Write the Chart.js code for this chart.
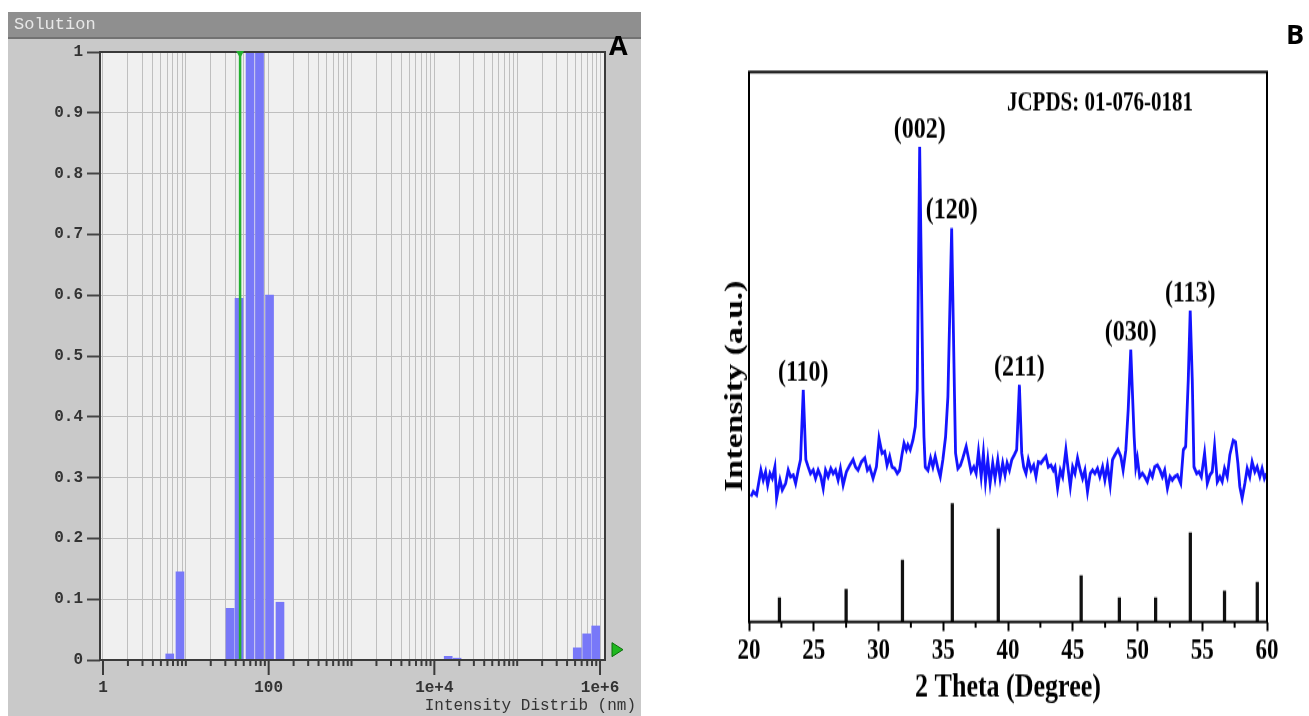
<!DOCTYPE html>
<html>
<head>
<meta charset="utf-8">
<script src="https://cdn.jsdelivr.net/npm/chart.js@4.4.1/dist/chart.umd.min.js"></script>
<style>
  html, body { margin: 0; padding: 0; background: #fff; }
  body { width: 1309px; height: 716px; position: relative; overflow: hidden; }
  #sizeChart { position: absolute; left: 8px; top: 12px; }
  #xrdChart { position: absolute; left: 650px; top: 0; }
  .panel-tag { position: absolute; font: bold 27px "Open Sans", sans-serif; color: #000; line-height: 1; }
</style>
</head>
<body>
<canvas id="sizeChart" width="633" height="704"></canvas>
<canvas id="xrdChart" width="659" height="551" style="width:659px;height:716px"></canvas>
<div class="panel-tag" style="left:609px;top:31px">A</div>
<div class="panel-tag" style="left:1286px;top:20px">B</div>
<script>
// ---- Panel A: intensity size distribution (nm) ----
const dlsSizes = [6.4, 8.5, 34.2, 43.9, 59.6, 77.6, 102.5, 137, 14700, 18800, 531000, 690000, 887000];
const dlsIntensity = [0.01, 0.145, 0.085, 0.595, 1.0, 1.0, 0.6, 0.095, 0.006, 0.003, 0.02, 0.043, 0.056];
const dlsMeanSize = 45.2;
const dlsLabelDecades = [0, 2, 4, 6];
const dlsTickLabels = ['1', '100', '1e+4', '1e+6'];

// ---- Panel B: XRD pattern ----
const xrdAngle = [
  20.15, 20.33, 20.59, 20.92, 21.10, 21.28, 21.44, 21.62, 21.80, 22.00,
  22.13, 22.39, 22.57, 22.83, 23.03, 23.21, 23.42, 23.60, 23.80, 23.98,
  24.19, 24.39, 24.57, 24.75, 24.96, 25.14, 25.34, 25.55, 25.73, 25.91,
  26.11, 26.32, 26.50, 26.68, 26.88, 27.06, 27.27, 27.52, 27.78, 28.04,
  28.22, 28.42, 28.68, 28.94, 29.14, 29.32, 29.58, 29.84, 30.04, 30.27,
  30.48, 30.66, 30.86, 31.04, 31.25, 31.45, 31.63, 31.81, 31.97, 32.15,
  32.27, 32.45, 32.66, 32.84, 32.99, 33.18, 33.43, 33.51, 33.61, 33.82,
  34.02, 34.20, 34.38, 34.59, 34.77, 34.97, 35.18, 35.36, 35.65, 35.87,
  35.95, 36.13, 36.33, 36.51, 36.77, 36.95, 37.15, 37.36, 37.54, 37.72,
  37.93, 38.10, 38.26, 38.44, 38.62, 38.82, 39.00, 39.21, 39.39, 39.59,
  39.77, 39.93, 40.11, 40.29, 40.49, 40.67, 40.88, 41.06, 41.21, 41.39,
  41.57, 41.78, 41.98, 42.16, 42.34, 42.55, 42.73, 42.93, 43.11, 43.32,
  43.50, 43.63, 43.83, 44.04, 44.22, 44.47, 44.65, 44.81, 44.99, 45.17,
  45.37, 45.58, 45.76, 45.94, 46.14, 46.35, 46.53, 46.71, 46.91, 47.09,
  47.30, 47.48, 47.68, 47.89, 48.07, 48.27, 48.50, 48.71, 48.89, 49.10,
  49.28, 49.48, 49.74, 49.87, 49.99, 50.17, 50.38, 50.56, 50.76, 50.97,
  51.15, 51.33, 51.54, 51.74, 51.92, 52.10, 52.31, 52.51, 52.69, 52.87,
  53.08, 53.34, 53.54, 53.72, 53.92, 54.07, 54.23, 54.36, 54.57, 54.75,
  54.93, 55.18, 55.39, 55.59, 55.77, 55.95, 56.16, 56.36, 56.54, 56.72,
  56.93, 57.13, 57.39, 57.57, 57.75, 57.90, 58.08, 58.29, 58.47, 58.67,
  58.85, 59.06, 59.24, 59.45, 59.62, 59.80, 59.96
];
const xrdIntensity = [
  22.8, 23.7, 23.1, 27.6, 25.8, 27.3, 24.9, 27.0, 26.1, 28.2,
  22.5, 25.8, 24.0, 25.2, 27.6, 26.4, 26.7, 25.2, 27.6, 29.5,
  42.2, 29.5, 28.2, 27.0, 27.6, 26.1, 27.6, 26.4, 24.3, 27.6,
  26.4, 27.9, 27.0, 27.6, 25.8, 27.9, 24.9, 27.3, 28.5, 29.5,
  28.2, 27.6, 29.1, 29.8, 27.6, 28.2, 26.1, 28.2, 33.4, 30.7,
  31.0, 28.5, 30.1, 28.2, 27.9, 27.0, 27.6, 30.4, 32.5, 31.3,
  32.2, 31.3, 33.1, 35.5, 42.2, 86.4, 42.2, 33.7, 28.2, 27.6,
  29.8, 28.2, 30.1, 27.9, 26.4, 29.5, 33.7, 41.0, 71.6, 41.0,
  30.7, 27.9, 28.5, 29.8, 31.9, 29.8, 27.3, 28.2, 27.0, 31.0,
  26.4, 30.7, 25.5, 29.5, 25.2, 28.9, 26.1, 29.5, 26.1, 28.9,
  26.7, 28.9, 27.6, 29.5, 30.4, 31.3, 43.1, 30.7, 28.2, 27.0,
  29.5, 27.6, 28.5, 26.4, 29.1, 28.9, 29.5, 30.1, 28.2, 28.5,
  27.6, 28.2, 24.3, 27.6, 26.4, 31.3, 27.6, 24.6, 28.2, 27.0,
  29.8, 27.6, 26.1, 27.6, 23.7, 27.0, 27.6, 27.0, 27.9, 26.4,
  28.2, 25.8, 28.5, 24.9, 29.5, 30.4, 31.3, 30.1, 27.6, 31.3,
  38.5, 49.5, 33.7, 28.2, 29.8, 26.4, 27.0, 26.4, 25.5, 27.3,
  26.4, 28.2, 28.5, 27.6, 26.4, 27.6, 24.3, 26.4, 25.8, 26.4,
  26.7, 25.2, 31.3, 31.9, 44.0, 56.6, 44.0, 28.2, 27.0, 27.3,
  26.4, 30.7, 25.2, 26.7, 27.3, 31.9, 25.5, 26.4, 25.5, 27.9,
  26.4, 30.4, 33.0, 32.7, 28.9, 24.6, 22.5, 25.2, 27.9, 26.4,
  29.1, 27.3, 28.2, 26.4, 27.9, 26.1, 27.0
];
// reference pattern JCPDS 01-076-0181
const refAngle = [22.35, 27.5, 31.85, 35.7, 39.25, 45.65, 48.6, 51.4, 54.08, 56.72, 59.25];
const refIntensity = [4.4, 5.9, 11.2, 21.5, 16.9, 8.4, 4.4, 4.4, 16.2, 5.6, 7.2];
const peakLabels = ['(110)', '(002)', '(120)', '(211)', '(030)', '(113)'];
const peakAngle = [24.19, 33.18, 35.65, 40.88, 49.48, 54.07];
const thetaTicks = [20, 25, 30, 35, 40, 45, 50, 55, 60];
const cardText = 'JCPDS: 01-076-0181';

// ---------------- Panel A ----------------
const monoFont = '"Liberation Mono", "DejaVu Sans Mono", monospace';

const dlsDecor = {
  id: 'dlsDecor',
  beforeDraw(chart) {
    const { ctx, chartArea: a, width, height } = chart;
    ctx.save();
    ctx.fillStyle = '#c9c9c9';
    ctx.fillRect(0, 0, width, height);
    ctx.fillStyle = '#8f8f8f';
    ctx.fillRect(0, 0, width, 25);
    ctx.fillStyle = '#727272';
    ctx.fillRect(0, 25, width, 2);
    ctx.fillStyle = '#e8e8e8';
    ctx.font = '17px ' + monoFont;
    ctx.textBaseline = 'middle';
    ctx.fillText('Solution', 6, 12);
    ctx.fillStyle = '#f0f0f0';
    ctx.fillRect(a.left, a.top, a.right - a.left, a.bottom - a.top);
    ctx.restore();
  },
  afterDraw(chart) {
    const { ctx, chartArea: a, scales } = chart;
    const x = scales.x, y = scales.y;
    ctx.save();
    // x tick marks below the axis
    ctx.strokeStyle = '#3a3a3a';
    ctx.lineWidth = 2;
    x.ticks.forEach(t => {
      const px = x.getPixelForValue(t.value);
      const len = dlsLabelDecades.includes(t.value) ? 15 : 6;
      ctx.beginPath();
      ctx.moveTo(px, a.bottom);
      ctx.lineTo(px, a.bottom + len);
      ctx.stroke();
    });
    // frame
    ctx.strokeRect(a.left, a.top, a.right - a.left, a.bottom - a.top);
    // mean marker on top
    const mx = x.getPixelForValue(Math.log10(dlsMeanSize));
    ctx.fillStyle = '#22b02e';
    ctx.beginPath();
    ctx.moveTo(mx - 4, a.top - 1);
    ctx.lineTo(mx + 4, a.top - 1);
    ctx.lineTo(mx, a.top + 6);
    ctx.closePath();
    ctx.fill();
    // right-side cursor arrow
    const ay = y.getPixelForValue(0.017);
    ctx.fillStyle = '#1fb81f';
    ctx.strokeStyle = '#0b6e0b';
    ctx.lineWidth = 1;
    ctx.beginPath();
    ctx.moveTo(a.right + 7, ay - 7);
    ctx.lineTo(a.right + 18, ay);
    ctx.lineTo(a.right + 7, ay + 7);
    ctx.closePath();
    ctx.fill();
    ctx.stroke();
    // axis title
    ctx.fillStyle = '#333';
    ctx.font = '16px ' + monoFont;
    ctx.textAlign = 'right';
    ctx.textBaseline = 'middle';
    ctx.fillText('Intensity Distrib (nm)', chart.width - 5, 694);
    ctx.restore();
  }
};

new Chart(document.getElementById('sizeChart'), {
  type: 'bar',
  data: {
    datasets: [
      {
        type: 'line',
        order: 0,
        data: [{ x: Math.log10(dlsMeanSize), y: 0 }, { x: Math.log10(dlsMeanSize), y: 1 }],
        borderColor: '#22b02e',
        borderWidth: 2.5,
        pointRadius: 0
      },
      {
        order: 1,
        data: dlsSizes.map((s, i) => ({ x: Math.log10(s), y: dlsIntensity[i] })),
        backgroundColor: '#7878f8',
        barThickness: 8
      }
    ]
  },
  options: {
    responsive: false,
    animation: false,
    layout: { padding: { top: 40, right: 36, left: 0, bottom: 0 } },
    plugins: { legend: { display: false }, tooltip: { enabled: false } },
    scales: {
      x: {
        type: 'linear',
        offset: false,
        min: -0.036,
        max: 6.06,
        afterBuildTicks: scale => {
          const ticks = [];
          for (let d = 0; d < 6; d++) {
            for (let k = 1; k < 10; k++) ticks.push({ value: d + Math.log10(k) });
          }
          ticks.push({ value: 6 });
          scale.ticks = ticks;
        },
        afterFit: scale => { scale.height = 56; },
        border: { display: false },
        grid: { offset: false, color: '#bfbfbf', lineWidth: 1, drawTicks: false },
        ticks: {
          autoSkip: false,
          maxRotation: 0,
          minRotation: 0,
          padding: 18,
          color: '#333',
          font: { family: monoFont, size: 16, weight: 'bold' },
          callback: value => {
            const i = dlsLabelDecades.indexOf(value);
            return i >= 0 ? dlsTickLabels[i] : '';
          }
        }
      },
      y: {
        min: 0,
        max: 1,
        afterFit: scale => { scale.width = 92; },
        border: { display: false },
        grid: { color: '#bfbfbf', lineWidth: 1, tickLength: 13, tickColor: '#444', tickWidth: 2 },
        ticks: {
          stepSize: 0.1,
          padding: 4,
          color: '#333',
          font: { family: monoFont, size: 16, weight: 'bold' },
          callback: v => String(+v.toFixed(1))
        }
      }
    }
  },
  plugins: [dlsDecor]
});

// ---------------- Panel B ----------------
const serifFont = '"Liberation Serif", "DejaVu Serif", serif';

function nearestIndex(arr, v) {
  let best = 0;
  arr.forEach((a, i) => { if (Math.abs(a - v) < Math.abs(arr[best] - v)) best = i; });
  return best;
}

const xrdDecor = {
  id: 'xrdDecor',
  afterDraw(chart) {
    const { ctx, chartArea: a, scales } = chart;
    const x = scales.x, y = scales.y;
    ctx.save();
    ctx.strokeStyle = '#000';
    ctx.lineWidth = 2;
    ctx.strokeRect(a.left, a.top, a.right - a.left, a.bottom - a.top);
    // minor ticks halfway between labelled ones
    for (let i = 0; i < thetaTicks.length - 1; i++) {
      const px = x.getPixelForValue((thetaTicks[i] + thetaTicks[i + 1]) / 2);
      ctx.beginPath();
      ctx.moveTo(px, a.bottom);
      ctx.lineTo(px, a.bottom + 4.5);
      ctx.stroke();
    }
    // y axis title
    ctx.fillStyle = '#000';
    ctx.font = 'bold 26px ' + serifFont;
    ctx.textAlign = 'center';
    ctx.textBaseline = 'middle';
    ctx.translate(85, 297);
    ctx.rotate(-Math.PI / 2);
    ctx.fillText('Intensity (a.u.)', 0, 0);
    ctx.setTransform(1, 0, 0, 1, 0, 0);
    // peak indices
    ctx.font = 'bold 24px ' + serifFont;
    peakLabels.forEach((lbl, i) => {
      const k = nearestIndex(xrdAngle, peakAngle[i]);
      const px = x.getPixelForValue(xrdAngle[k]);
      const py = y.getPixelForValue(xrdIntensity[k]) - 13.5;
      ctx.fillText(lbl, px, py);
    });
    // card number
    ctx.font = 'bold 21px ' + serifFont;
    ctx.fillText(cardText, x.getPixelForValue(47.1), y.getPixelForValue(94.4));
    ctx.restore();
  }
};

new Chart(document.getElementById('xrdChart'), {
  type: 'bar',
  data: {
    datasets: [
      {
        type: 'line',
        order: 0,
        data: xrdAngle.map((a, i) => ({ x: a, y: xrdIntensity[i] })),
        borderColor: '#1414ff',
        borderWidth: 2.8,
        pointRadius: 0,
        tension: 0
      },
      {
        order: 1,
        data: refAngle.map((a, i) => ({ x: a, y: refIntensity[i] })),
        backgroundColor: '#111',
        barThickness: 2.6
      }
    ]
  },
  options: {
    responsive: false,
    animation: false,
    layout: { padding: { top: 55.4, right: 42, left: 99, bottom: 0 } },
    plugins: { legend: { display: false }, tooltip: { enabled: false } },
    scales: {
      x: {
        type: 'linear',
        offset: false,
        min: 20,
        max: 60,
        afterBuildTicks: scale => { scale.ticks = thetaTicks.map(v => ({ value: v })); },
        afterFit: scale => { scale.height = 72.4; },
        border: { display: false },
        grid: { offset: false, drawOnChartArea: false, tickLength: 7, tickColor: '#000', tickWidth: 2 },
        ticks: {
          padding: 2,
          color: '#000',
          maxRotation: 0,
          font: { family: serifFont, size: 23, weight: 'bold' }
        },
        title: {
          display: true,
          text: '2 Theta (Degree)',
          color: '#000',
          padding: { top: 0, bottom: 6 },
          font: { family: serifFont, size: 26, weight: 'bold' }
        }
      },
      y: {
        display: false,
        min: 0,
        max: 100
      }
    }
  },
  plugins: [xrdDecor]
});
</script>
</body>
</html>
